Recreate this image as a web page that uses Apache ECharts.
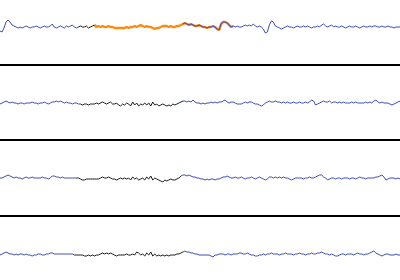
<!DOCTYPE html>
<html><head><meta charset="utf-8">
<script src="https://cdn.jsdelivr.net/npm/echarts@6/dist/echarts.min.js"></script>
<style>html,body{margin:0;padding:0;background:#fff}#c{width:400px;height:280px}</style>
</head><body><div id="c"></div>
<script>
// sample index i (0..199) -> horizontal position; values = trace offset (positive = up)
const trace1 = [
 -4,-5,-1,5,7,5,2,1,0,-1,
 0,-1,0,1,0,-1,0,0,1,0,
 -1,0,1,0,0,1,3,0,-1,0,
 1,0,-1,1,0,1,2,0,-1,0,
 1,0,0,1,-1,0,1,2,0,1,
 0,1,0,0,1,0,0,-1,-1,-1,
 -1,-1,-1,0,-1,0,0,1,0,1,
 2,1,0,1,0,0,-1,-2,-1,-1,
 0,1,1,1,0,1,0,0,1,1,
 2,3,4,3,2,3,2,1,1,2,
 1,0,0,-1,0,0,1,0,-2,-3,
 3,5,5,4,2,0,1,0,1,0,
 0,1,2,1,2,1,3,1,0,1,
 0,-2,-6,-5,2,6,5,1,0,-1,
 -2,-1,0,1,0,0,-1,0,1,0,
 0,1,0,1,0,-1,0,0,1,0,
 2,3,1,0,1,2,0,1,0,0,
 1,0,-1,0,1,0,0,1,0,-1,
 0,1,0,0,1,0,1,1,0,0,
 1,0,0,1,0,0,-1,0,0,0
];
const trace2 = [
 -1,0,1,2,1,0,1,0,0,-1,
 0,0,-1,0,0,0,1,0,0,-1,
 0,0,1,0,-1,0,1,1,2,1,
 2,1,0,1,0,0,-1,0,0,-1,
 -1,-2,-1,-1,-2,-1,-1,-1,0,-1,
 0,1,0,-1,0,1,-1,-1,0,-2,
 -3,-1,-2,0,-1,-3,1,-2,0,-3,
 -1,-2,0,-2,0,-3,1,-2,-1,-3,
 -2,-1,-2,-3,-2,-3,-1,-2,-1,0,
 1,2,2,1,2,1,3,1,0,0,
 -1,0,-1,0,0,1,0,1,0,1,
 1,2,3,1,0,1,1,0,-1,-1,
 -1,0,1,0,1,1,0,-1,-1,-2,
 -3,-2,0,1,2,1,1,2,1,1,
 0,1,0,1,0,0,1,0,0,1,
 0,0,1,0,1,3,2,-2,-1,0,
 1,2,1,1,2,0,1,1,0,1,
 0,1,0,0,0,1,0,1,0,0,
 0,0,1,0,1,0,2,3,1,0,
 1,0,0,0,-1,-2,-1,0,1,2
];
const trace3 = [
 0,0,1,2,3,2,1,0,1,0,
 0,-1,0,1,0,0,1,0,0,0,
 0,1,0,0,-1,0,2,2,1,1,
 0,1,0,0,0,0,0,0,0,0,
 -1,-2,-2,-1,-1,-1,-1,-1,-1,-1,
 0,1,0,0,1,0,-1,-1,-2,-1,
 0,-1,0,-1,0,-2,1,-1,0,-2,
 -1,0,-2,1,-1,2,-2,0,-1,-2,
 -3,-4,-2,-3,-2,-1,-2,-2,-1,0,
 2,3,3,2,3,2,1,1,0,0,
 -1,-1,-2,-1,-2,-1,-1,-2,-1,-1,
 0,1,1,2,1,0,0,1,0,0,
 1,0,-1,0,0,1,0,-1,0,1,
 0,-1,-2,-1,1,1,0,1,0,1,
 0,1,0,0,-1,-2,-1,0,0,0,
 0,-1,0,0,1,0,0,1,2,3,
 3,1,0,-2,-1,0,0,-1,0,0,
 -1,0,0,0,-1,0,0,-1,0,1,
 0,0,-1,0,0,0,0,1,1,2,
 3,1,-2,-1,0,0,0,-1,0,-1
];
const trace4 = [
 -1,0,1,2,1,0,0,-1,0,-1,
 0,0,-1,0,-1,-1,-2,-1,-1,0,
 0,-1,-1,0,0,1,1,0,0,0,
 0,0,0,0,0,0,0,-1,-1,-1,
 -1,-1,-2,-2,-1,-2,-1,-2,-1,-1,
 0,1,0,1,0,1,0,-1,-2,-1,
 -1,-1,-1,0,-1,-1,0,-1,2,1,
 -1,0,-2,1,-1,2,-2,0,-2,-1,
 -2,-1,-2,-1,-2,-1,-1,-1,0,0,
 1,2,3,2,2,1,1,0,0,-1,
 -1,-1,-1,-1,-1,-2,-3,-1,-1,0,
 0,0,-1,0,0,-1,0,0,0,1,
 1,0,0,1,0,-1,-1,-2,-2,-1,
 -1,0,-1,0,0,1,0,0,0,-1,
 0,0,1,0,0,0,-1,0,0,1,
 0,0,-1,0,0,1,0,0,1,1,
 2,1,0,0,-1,0,-1,-2,-2,-1,
 0,0,-1,0,0,0,-1,0,1,0,
 0,-1,0,0,1,2,3,1,0,-1,
 -2,-1,0,0,-1,-1,-1,0,-1,-1
];
// highlighted index ranges [start, end]
const blackRanges = [[39, 47], [40, 91], [38, 90], [37, 91]];
const orangeRange = [47, 116];
const blueResume1 = 91; // panel 1: blue trace reappears (overlapping orange) from here

const traces = [trace1, trace2, trace3, trace4];
const cats = trace1.map((_, i) => i);
const grids = [
  {left: 0, right: 0, top: 0, height: 65},
  {left: 0, right: 0, top: 65, height: 75},
  {left: 0, right: 0, top: 140, height: 76},
  {left: 0, right: 0, top: 216, height: 64}
];
const yRanges = [[-38, 27], [-37, 38], [-38, 38], [-26, 38]];
const BLUE = '#3a4cb8', BLACK = '#1a1a1a', ORANGE = '#ff8a10';

const xAxis = grids.map((g, k) => ({
  type: 'category', gridIndex: k, data: cats, boundaryGap: false,
  axisLine: {show: k < 3, onZero: false, lineStyle: {color: '#000', width: 2}},
  axisTick: {show: false}, axisLabel: {show: false}, splitLine: {show: false}
}));
const yAxis = grids.map((g, k) => ({
  type: 'value', gridIndex: k, min: yRanges[k][0], max: yRanges[k][1], show: false
}));
const series = [];
traces.forEach((t, k) => {
  const [b0, b1] = blackRanges[k];
  const line = (data, color, width) => ({
    type: 'line', xAxisIndex: k, yAxisIndex: k, data, showSymbol: false, symbol: 'none',
    lineStyle: {color, width}, silent: true
  });
  if (k === 0) {
    series.push(line(t.map((v, i) => (i >= orangeRange[0] && i <= orangeRange[1]) ? v : '-'), ORANGE, 2.5));
    series.push(line(t.map((v, i) => (i <= b0 || i >= blueResume1) ? v : '-'), BLUE, 1));
  } else {
    series.push(line(t.map((v, i) => (i <= b0 || i >= b1) ? v : '-'), BLUE, 1));
  }
  series.push(line(t.map((v, i) => (i >= b0 && i <= b1) ? v : '-'), BLACK, 1));
});
const chart = echarts.init(document.getElementById('c'));
chart.setOption({animation: false, grid: grids, xAxis, yAxis, series});
</script></body></html>
